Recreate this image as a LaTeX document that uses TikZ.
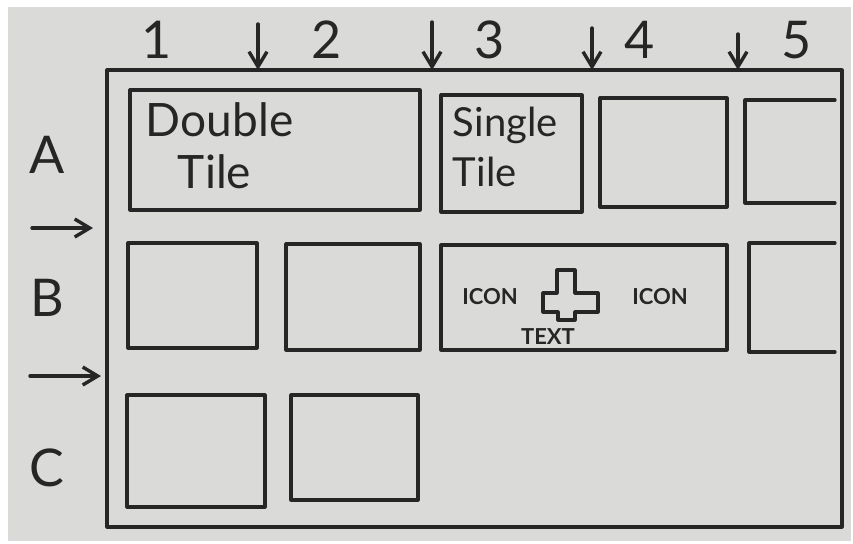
\documentclass[tikz,border=0pt]{standalone}
\usepackage{fontspec}
\setmainfont{Lato}
\usetikzlibrary{arrows.meta,positioning}

\definecolor{paper}{RGB}{218,218,216}
\definecolor{ink}{RGB}{38,38,38}

\begin{document}
\begin{tikzpicture}[x=1pt,y=-1pt,line width=3.2pt,line join=round,line cap=round,
    tile/.style={inner sep=0pt,anchor=north west},
    lbl/.style={text=ink,font=\fontsize{52}{52}\selectfont},
    tiletext/.style={text=ink,align=left,font=\fontsize{46}{54}\selectfont},
    small/.style={text=ink,font=\bfseries\fontsize{22}{22}\selectfont},
    pointer/.style={draw=ink,line width=3.4pt,-{Straight Barb[length=15pt,width=18pt]}}]
    % sheet
    \fill[white] (0,0) rectangle (853,543);
    \fill[paper] (8,7) rectangle (851,541);
    \draw[ink] (107,70) rectangle (842,527);
    \node[tile,minimum width=735,minimum height=457] (frame) at (107,70) {};

    % column and row labels
    \foreach \c/\x in {1/157,2/327,3/490,4/640,5/797}
        \node[lbl] (col\c) at (\x,40) {\c};
    \foreach \r/\y in {A/155,B/298,C/468}
        \node[lbl] (row\r) at (47,\y) {\r};

    % markers between columns and rows
    \foreach \g/\x/\y in {a/258/24,b/432/22,c/592/28,d/738/34}{
        \coordinate (gap\g) at (\x,\y);
        \draw[pointer] (gap\g) -- (gap\g |- frame.north);
    }
    \coordinate (gapab) at (32,228);
    \coordinate (gapbc) at (30,376);
    \draw[pointer,shorten >=14pt] (gapab) -- (gapab -| frame.west);
    \draw[pointer,shorten >=6pt] (gapbc) -- (gapbc -| frame.west);

    % tiles: name/left/top/right/bottom
    \foreach \t/\l/\u/\r/\b in {A12/130/90/420/210, A3/441/95/582/212, A4/600/98/727/207,
                                B1/128/243/257/348, B2/286/244/420/350, B34/441/245/727/350,
                                C1/127/395/265/507, C2/291/395/418/500}{
        \draw[ink] (\l,\u) rectangle (\r,\b);
        \node[tile,minimum width=\r-\l,minimum height=\b-\u] (\t) at (\l,\u) {};
    }
    % tiles cut off by the right edge
    \draw[ink] (835,100) -- (745,100) -- (745,203) -- (835,203);
    \draw[ink] (835,243) -- (749,243) -- (749,352) -- (835,352);

    \node[tiletext,anchor=north west] at (A12.north west) [xshift=11pt,yshift=-8pt] {Double\\[-2pt]\hspace{32pt}Tile};
    \node[tiletext,anchor=north west,font=\fontsize{40}{50}\selectfont] at (A3.north west) [xshift=7pt,yshift=-7pt] {Single\\Tile};

    \node[small] (iconL) at (490,297) {ICON};
    \node[small] (iconR) at (660,297) {ICON};
    \draw[ink] (557,270) -- (575,270) -- (575,293) -- (598,293)
        -- (598,312) -- (575,312) -- (575,320) -- (558,320) -- (558,312)
        -- (543,312) -- (543,293) -- (557,293) -- cycle;
    \node[small] (label) at (548,337) {TEXT};
\end{tikzpicture}
\end{document}
